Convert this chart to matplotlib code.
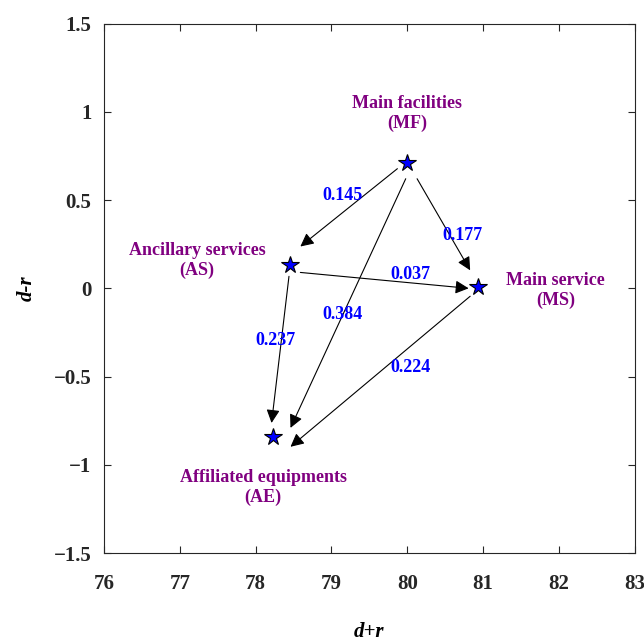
import numpy as np
import matplotlib.pyplot as plt

plt.rcParams['font.family'] = ['Liberation Serif', 'DejaVu Serif']
plt.rcParams['font.weight'] = 'bold'

# nodes (d+r, d-r)
names = ["Main facilities\n(MF)", "Ancillary services\n(AS)",
         "Main service\n(MS)", "Affiliated equipments\n(AE)"]
node_x = [80.0, 78.46, 80.93, 78.23]
node_y = [0.712, 0.13, 0.01, -0.845]
label_x = [80.0, 77.23, 81.96, 78.10]
label_y = [0.99, 0.158, -0.01, -1.13]

# influence arrows: tail -> head
arrow_x0 = [79.87, 79.98, 80.13, 78.59, 78.44, 80.83]
arrow_y0 = [0.678, 0.621, 0.621, 0.090, 0.068, -0.045]
arrow_x1 = [78.59, 78.46, 80.83, 80.81, 78.21, 78.46]
arrow_y1 = [0.237, -0.791, 0.102, 0.0, -0.763, -0.898]
weights = ["0.145", "0.384", "0.177", "0.037", "0.237", "0.224"]
weight_x = [79.14, 79.14, 80.73, 80.04, 78.26, 80.04]
weight_y = [0.525, -0.147, 0.30, 0.08, -0.294, -0.446]

fig = plt.figure(figsize=(6.44, 6.44), dpi=100)
ax = fig.add_axes([0.1615, 0.1413, 0.824, 0.822])

for i in range(len(weights)):
    ax.annotate("", xy=(arrow_x1[i], arrow_y1[i]), xytext=(arrow_x0[i], arrow_y0[i]),
                arrowprops=dict(arrowstyle='-|>', mutation_scale=20, lw=0.8,
                                color='k', shrinkA=0, shrinkB=0))
    ax.text(weight_x[i], weight_y[i], weights[i], color='blue', fontsize=13,
            fontweight='bold', ha='center', va='center')

ax.plot(node_x, node_y, '*', ms=13, mfc='blue', mec='k', mew=0.8, ls='none')
for i in range(len(names)):
    ax.text(label_x[i], label_y[i], names[i], color='purple', fontsize=13,
            fontweight='bold', ha='center', va='center', linespacing=1.2)

ax.set_xlim(76, 83)
ax.set_ylim(-1.5, 1.5)
ax.set_xticks(np.arange(76, 84, 1))
ax.set_yticks([-1.5, -1, -0.5, 0, 0.5, 1, 1.5])
ax.set_yticklabels(['\u22121.5', '\u22121', '\u22120.5', '0', '0.5', '1', '1.5'])
ax.tick_params(direction='in', length=5, width=0.8, labelsize=15,
               color='0.15', labelcolor='0.15', top=True, right=True)
ax.tick_params(axis='x', pad=15)
ax.tick_params(axis='y', pad=9)
for s in ax.spines.values():
    s.set_color('0.15')
    s.set_linewidth(0.8)
ax.set_xlabel('d+r', fontsize=15, fontstyle='italic', fontweight='bold', labelpad=20)
ax.set_ylabel('d-r', fontsize=15, fontstyle='italic', fontweight='bold', labelpad=12)

fig.savefig('out.png', dpi=100)
